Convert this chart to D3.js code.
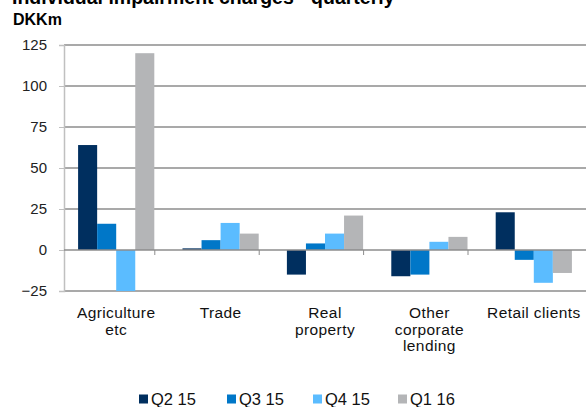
<!DOCTYPE html>
<html>
<head>
<meta charset="utf-8">
<script src="https://cdn.jsdelivr.net/npm/d3@7"></script>
<style>
  body { margin: 0; background: #fff; }
  svg { display: block; font-family: "Liberation Sans", Arial, sans-serif; }
</style>
</head>
<body>
<div id="chart"></div>
<script>
// chart data
var categories = [["Agriculture", "etc"], ["Trade"], ["Real", "property"], ["Other", "corporate", "lending"], ["Retail clients"]]
var seriesNames = ["Q2 15", "Q3 15", "Q4 15", "Q1 16"]
var q2_15 = [64, 1, -15, -16, 23]
var q3_15 = [16, 6, 4, -15, -6]
var q4_15 = [-25, 16.5, 10, 5, -20]
var q1_16 = [120, 10, 21, 8, -14]
var yTicks = [-25, 0, 25, 50, 75, 100, 125]
var colors = ["#002f5f", "#0077c8", "#5bbcff", "#b4b5b7"]

var svgSize = { width: 586, height: 407 }
var margin = { top: 45, left: 64, right: 0, bottom: 116 }
var chartSize = {
    width: svgSize.width - margin.left - margin.right,
    height: svgSize.height - margin.top - margin.bottom
}

var svg = d3.select("#chart").append("svg")
            .attr("width", svgSize.width)
            .attr("height", svgSize.height)

// title (cut off at the top like the original)
svg.append("text").attr("x", 12).attr("y", 4)
   .attr("font-size", 19.5).attr("font-weight", "bold")
   .text("Individual impairment charges - quarterly")
svg.append("text").attr("x", 13).attr("y", 25)
   .attr("font-size", 16).attr("font-weight", "bold")
   .text("DKKm")

var frame = svg.append("g").attr("transform", `translate(${margin.left}, ${margin.top})`)

var xScale = d3.scaleBand().domain(d3.range(categories.length))
               .range([0, chartSize.width]).paddingInner(0.27).paddingOuter(0.135)
var xInner = d3.scaleBand().domain(seriesNames).range([0, xScale.bandwidth()])
var yScale = d3.scaleLinear().domain([-25, 125]).range([chartSize.height, 0])

// gridlines
frame.append("g").selectAll("line").data(yTicks.filter(t => t != 0))
     .enter().append("line")
     .attr("x1", 0).attr("x2", chartSize.width)
     .attr("y1", t => yScale(t)).attr("y2", t => yScale(t))
     .attr("stroke", "#8c8c8c").attr("stroke-width", 1.3)

// y axis
var leftAxis = d3.axisLeft(yScale).tickValues(yTicks).tickSize(5).tickPadding(12)
var yAxis = frame.append("g").call(leftAxis)
yAxis.select(".domain").attr("stroke", "#c0c0c0").attr("stroke-width", 1.5)
yAxis.selectAll("line").attr("stroke", "#c0c0c0")
yAxis.selectAll("text").attr("font-size", 15).attr("fill", "#222")
     .attr("font-family", "Liberation Sans, Arial, sans-serif")

// bars
var series = [q2_15, q3_15, q4_15, q1_16]
series.forEach((vals, si) => {
    frame.append("g").selectAll("rect").data(vals)
         .enter().append("rect")
         .attr("x", (v, i) => xScale(i) + xInner(seriesNames[si]))
         .attr("width", xInner.bandwidth())
         .attr("y", v => yScale(Math.max(v, 0)))
         .attr("height", v => Math.abs(yScale(v) - yScale(0)))
         .attr("fill", colors[si])
})

// zero line with category ticks
var step = xScale.step()
frame.append("line").attr("x1", 0).attr("x2", chartSize.width)
     .attr("y1", yScale(0)).attr("y2", yScale(0))
     .attr("stroke", "#8c8c8c").attr("stroke-width", 1.3)
frame.append("g").selectAll("line").data(d3.range(1, categories.length))
     .enter().append("line")
     .attr("x1", i => xScale(i) - step * 0.135 * 2 + 0.5)
     .attr("x2", i => xScale(i) - step * 0.135 * 2 + 0.5)
     .attr("y1", yScale(0)).attr("y2", yScale(0) + 5)
     .attr("stroke", "#8c8c8c")

// category labels
var catLabels = frame.append("g").selectAll("text").data(categories)
     .enter().append("text")
     .attr("text-anchor", "middle")
     .attr("font-size", 15.5).attr("fill", "#111")
     .attr("letter-spacing", 0.4)
catLabels.each(function (lines, i) {
    var t = d3.select(this)
    lines.forEach((ln, k) => {
        t.append("tspan").attr("x", xScale(i) + xScale.bandwidth() / 2)
         .attr("y", chartSize.height + 27 + k * 16.7).text(ln)
    })
})

// legend
var legendX = [139, 227, 313, 398]
var legend = svg.append("g").selectAll("g").data(seriesNames)
     .enter().append("g")
     .attr("transform", (d, i) => `translate(${legendX[i]}, 399)`)
legend.append("rect").attr("x", 0).attr("y", -4.5).attr("width", 9).attr("height", 9)
      .attr("fill", (d, i) => colors[i])
legend.append("text").attr("x", 12).attr("y", 6)
      .attr("font-size", 16.5).attr("fill", "#111")
      .text(d => d)
</script>
</body>
</html>
